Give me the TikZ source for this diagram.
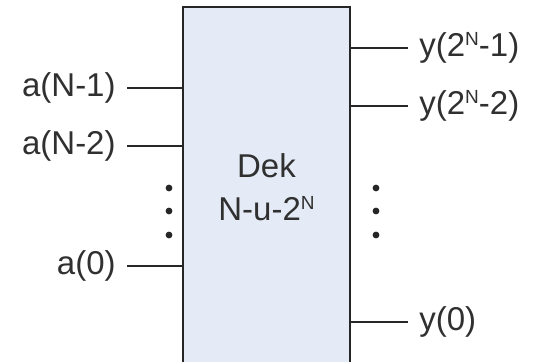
\documentclass[tikz,border=0pt]{standalone}
\usepackage{fontspec}
\setmainfont{Liberation Sans}
\usetikzlibrary{positioning,calc}
\definecolor{ink}{HTML}{262626}
\definecolor{txt}{HTML}{303030}
\definecolor{boxfill}{HTML}{E4EBF6}
\newcommand{\supN}{\raisebox{5.4pt}{\fontsize{9.5}{9.5}\selectfont N}}
\tikzset{
  dekbox/.style={draw=ink, line width=1.3pt, fill=boxfill, align=center, text=txt, font=\fontsize{16.5}{21.5}\selectfont},
  pin/.style={font=\fontsize{16.5}{20}\selectfont, text=txt, inner sep=5.5pt},
  wire/.style={draw=ink, line width=1pt},
  dot/.style={fill=ink}
}
\begin{document}
\begin{tikzpicture}[x=0.5pt,y=-0.5pt]
\useasboundingbox (0,0) rectangle (542,362);
\fill[white] (0,0) rectangle (542,362);
\node[dekbox, minimum width=83.5pt, minimum height=180pt] (dek) at (266.5,187) {Dek\\N-u-2\supN};
% inputs
\node[pin, anchor=east] (an1) at (127,88) {a(N-1)};
\node[pin, anchor=east] (an2) at (127,146) {a(N-2)};
\node[pin, anchor=east] (a0) at (127,266) {a(0)};
\draw[wire] (an1.east) -- (an1.east -| dek.west);
\draw[wire] (an2.east) -- (an2.east -| dek.west);
\draw[wire] (a0.east) -- (a0.east -| dek.west);
% outputs
\node[pin, anchor=west] (y1) at (408,48) {y(2\supN-1)};
\node[pin, anchor=west] (y2) at (408,106) {y(2\supN-2)};
\node[pin, anchor=west] (y0) at (408,322) {y(0)};
\draw[wire] (y1.west) -- (y1.west -| dek.east);
\draw[wire] (y2.west) -- (y2.west -| dek.east);
\draw[wire] (y0.west) -- (y0.west -| dek.east);
% dots
\foreach \yy in {188,211,235} {
  \fill[dot] (169,\yy) circle (1.7pt);
  \fill[dot] (376,\yy) circle (1.7pt);
}
\end{tikzpicture}
\end{document}
